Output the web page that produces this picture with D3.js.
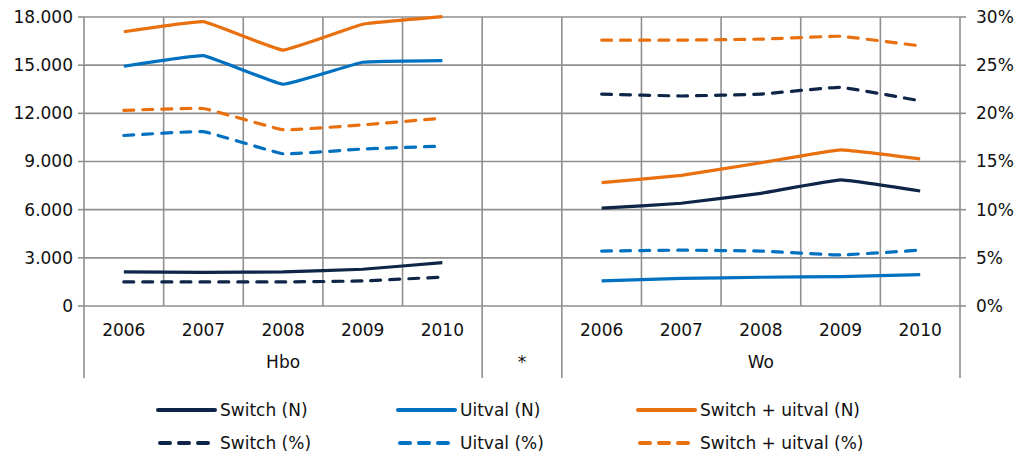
<!DOCTYPE html>
<html>
<head>
<meta charset="utf-8">
<script src="https://cdn.jsdelivr.net/npm/d3@7"></script>
<style>
  body { margin: 0; background: #fff; }
  text { font-family: "DejaVu Sans", Verdana, sans-serif; fill: #111; }
</style>
</head>
<body>
<div id="chart"></div>
<script>
// categories
const years = ["2006", "2007", "2008", "2009", "2010"];
const groups = ["Hbo", "*", "Wo"];

// N series (left axis)
const switchN_hbo = [2120, 2100, 2120, 2290, 2700];
const switchN_wo = [6090, 6400, 7020, 7850, 7160];
const uitvalN_hbo = [14930, 15590, 13810, 15180, 15280];
const uitvalN_wo = [1560, 1720, 1790, 1830, 1950];
const totalN_hbo = [17080, 17710, 15940, 17550, 18020];
const totalN_wo = [7680, 8140, 8920, 9720, 9160];

// % series (right axis)
const switchPct_hbo = [2.5, 2.5, 2.5, 2.6, 3.0];
const switchPct_wo = [22.0, 21.8, 22.0, 22.7, 21.3];
const uitvalPct_hbo = [17.7, 18.1, 15.8, 16.3, 16.6];
const uitvalPct_wo = [5.7, 5.8, 5.7, 5.3, 5.8];
const totalPct_hbo = [20.3, 20.5, 18.3, 18.8, 19.5];
const totalPct_wo = [27.6, 27.6, 27.7, 28.0, 27.0];

// tick labels
const leftTicks = [0, 3000, 6000, 9000, 12000, 15000, 18000];
const rightTicks = [0, 5, 10, 15, 20, 25, 30];

const navy = "#0f2547", blue = "#0070c0", orange = "#e8700f";

const series = [
    {name: "Switch (N)", color: navy, dash: false, axis: "N", hbo: switchN_hbo, wo: switchN_wo},
    {name: "Uitval (N)", color: blue, dash: false, axis: "N", hbo: uitvalN_hbo, wo: uitvalN_wo},
    {name: "Switch + uitval (N)", color: orange, dash: false, axis: "N", hbo: totalN_hbo, wo: totalN_wo},
    {name: "Switch (%)", color: navy, dash: true, axis: "P", hbo: switchPct_hbo, wo: switchPct_wo},
    {name: "Uitval (%)", color: blue, dash: true, axis: "P", hbo: uitvalPct_hbo, wo: uitvalPct_wo},
    {name: "Switch + uitval (%)", color: orange, dash: true, axis: "P", hbo: totalPct_hbo, wo: totalPct_wo}
];

const W = 1025, H = 455;
const plotLeft = 84, plotRight = 960, plotTop = 17, plotBottom = 306;
const fontSize = "17px";

const svg = d3.select("#chart").append("svg")
    .attr("width", W).attr("height", H);

// category keys: 5 Hbo years, a spacer, 5 Wo years
const keys = years.map(y => "Hbo|" + y).concat(["*"], years.map(y => "Wo|" + y));

const x = d3.scaleBand().domain(keys).range([plotLeft, plotRight]).padding(0);
const yN = d3.scaleLinear().domain([0, 18000]).range([plotBottom, plotTop]);
const yP = d3.scaleLinear().domain([0, 30]).range([plotBottom, plotTop]);

const grid = "#8f8f8f";
const fmt = d3.formatLocale({decimal: ",", thousands: ".", grouping: [3]}).format(",");

// horizontal gridlines
svg.append("g").selectAll("line").data(leftTicks).join("line")
    .attr("x1", plotLeft).attr("x2", plotRight)
    .attr("y1", d => yN(d)).attr("y2", d => yN(d))
    .attr("stroke", grid).attr("stroke-width", 1.6);

// vertical gridlines at band edges
const edges = keys.map(k => x(k)).concat([plotRight]);
svg.append("g").selectAll("line").data(edges).join("line")
    .attr("x1", d => d).attr("x2", d => d)
    .attr("y1", plotTop).attr("y2", plotBottom)
    .attr("stroke", grid).attr("stroke-width", 1.6);

// left axis ticks + labels
const yAxisL = svg.append("g");
yAxisL.selectAll("line").data(leftTicks).join("line")
    .attr("x1", plotLeft - 6).attr("x2", plotLeft)
    .attr("y1", d => yN(d)).attr("y2", d => yN(d))
    .attr("stroke", grid).attr("stroke-width", 1.6);
yAxisL.selectAll("text").data(leftTicks).join("text")
    .attr("x", plotLeft - 11).attr("y", d => yN(d)).attr("dy", "0.35em")
    .attr("text-anchor", "end").attr("font-size", fontSize)
    .text(d => fmt(d));

// right axis ticks + labels
const yAxisR = svg.append("g");
yAxisR.selectAll("line").data(rightTicks).join("line")
    .attr("x1", plotRight).attr("x2", plotRight + 6)
    .attr("y1", d => yP(d)).attr("y2", d => yP(d))
    .attr("stroke", grid).attr("stroke-width", 1.6);
yAxisR.selectAll("text").data(rightTicks).join("text")
    .attr("x", plotRight + 16).attr("y", d => yP(d)).attr("dy", "0.35em")
    .attr("text-anchor", "start").attr("font-size", fontSize)
    .text(d => d + "%");

// x axis: year labels
svg.append("g").selectAll("text").data(keys.filter(k => k !== "*")).join("text")
    .attr("x", d => x(d) + x.bandwidth() / 2).attr("y", 330).attr("dy", "0.35em")
    .attr("text-anchor", "middle").attr("font-size", fontSize)
    .text(d => d.split("|")[1]);

// group labels and separators below the axis
const groupSpan = g => {
    const ks = g === "*" ? ["*"] : years.map(y => g + "|" + y);
    return [x(ks[0]), x(ks[ks.length - 1]) + x.bandwidth()];
};
svg.append("g").selectAll("text").data(groups).join("text")
    .attr("x", d => d3.mean(groupSpan(d))).attr("y", 362).attr("dy", "0.35em")
    .attr("text-anchor", "middle").attr("font-size", fontSize)
    .text(d => d);

const seps = [groupSpan("Hbo")[0], groupSpan("Hbo")[1], groupSpan("Wo")[0], groupSpan("Wo")[1]];
svg.append("g").selectAll("line").data(seps).join("line")
    .attr("x1", d => d).attr("x2", d => d)
    .attr("y1", plotBottom).attr("y2", 378)
    .attr("stroke", grid).attr("stroke-width", 1.6);

// lines (lightly smoothed like the original)
const cx = (g, i) => x(g + "|" + years[i]) + x.bandwidth() / 2;
const lineGroup = svg.append("g");
series.forEach(s => {
    const yS = s.axis === "N" ? yN : yP;
    ["hbo", "wo"].forEach(g => {
        const gname = g === "hbo" ? "Hbo" : "Wo";
        const line = d3.line()
            .x((d, i) => cx(gname, i))
            .y(d => yS(d))
            .curve(d3.curveCardinal.tension(0.75));
        lineGroup.append("path")
            .datum(s[g])
            .attr("d", line)
            .attr("fill", "none")
            .attr("stroke", s.color)
            .attr("stroke-width", 3.2)
            .attr("stroke-linecap", s.dash ? "round" : "butt")
            .attr("stroke-dasharray", s.dash ? "10,9" : null);
    });
});

// legend
const legendX = [158, 398, 638];
const legendY = [410, 443];
const legend = svg.append("g");
series.forEach((s, i) => {
    const lx = legendX[i % 3], ly = legendY[Math.floor(i / 3)];
    legend.append("line")
        .attr("x1", s.dash ? lx + 2 : lx).attr("x2", s.dash ? lx + 54 : lx + 57)
        .attr("y1", ly).attr("y2", ly)
        .attr("stroke", s.color).attr("stroke-width", 4)
        .attr("stroke-linecap", "round")
        .attr("stroke-dasharray", s.dash ? "10,9" : null);
    legend.append("text")
        .attr("x", lx + 62).attr("y", ly).attr("dy", "0.35em")
        .attr("font-size", fontSize)
        .text(s.name);
});
</script>
</body>
</html>
